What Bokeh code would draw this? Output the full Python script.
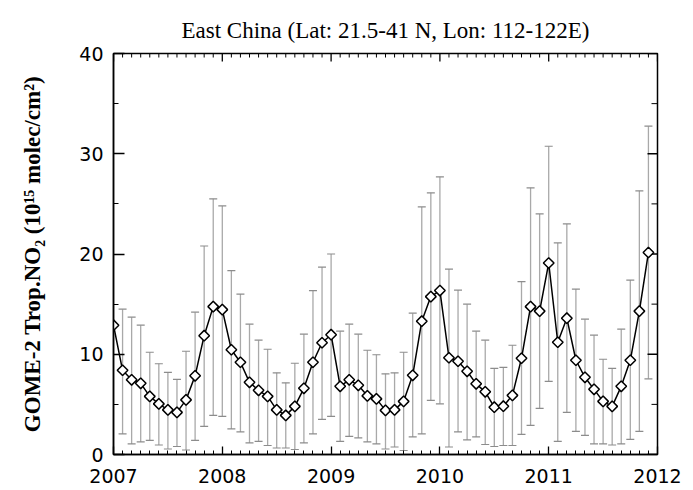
import math
import numpy as np
from bokeh.plotting import figure
from bokeh.models import (ColumnDataSource, Whisker, TeeHead,
                          SingleIntervalTicker, Range1d)
from bokeh.embed import file_html
from bokeh.resources import INLINE

title_text = "East China (Lat: 21.5-41 N, Lon: 112-122E)"
ylabel_text = "GOME-2 Trop.NO\u2082 (10\u00b9\u2075 molec/cm\u00b2)"

years = [2007, 2008, 2009, 2010, 2011]

no2 = [
    12.9, 8.4, 7.45, 7.1, 5.8, 5.05, 4.45, 4.2, 5.45, 7.85, 11.85, 14.75,
    14.45, 10.45, 9.2, 7.2, 6.4, 5.8, 4.45, 3.9, 4.8, 6.6, 9.2, 11.15,
    11.95, 6.8, 7.45, 6.9, 5.85, 5.55, 4.4, 4.45, 5.3, 7.9, 13.3, 15.75,
    16.35, 9.65, 9.3, 8.3, 7.05, 6.25, 4.72, 4.82, 5.9, 9.6, 14.75, 14.3,
    19.1, 11.2, 13.6, 9.4, 7.7, 6.5, 5.3, 4.8, 6.8, 9.4, 14.3, 20.15,
]

upper = [
    float("nan"), 14.5, 13.7, 12.9, 10.2, 9.05, 8.2, 7.5, 10.3, 14.2, 20.8, 25.5,
    24.8, 18.35, 16.0, 13.0, 11.4, 10.5, 8.15, 7.15, 9.1, 12.0, 16.35, 18.7,
    20.0, 12.3, 13.0, 12.0, 10.4, 9.95, 8.05, 8.15, 10.2, 14.1, 24.7, 26.1,
    27.7, 18.5, 16.4, 15.0, 12.3, 11.4, 8.6, 8.7, 10.9, 17.25, 26.6, 24.0,
    30.75, 21.1, 23.0, 16.5, 13.5, 11.9, 9.5, 8.6, 12.5, 17.4, 26.3, 32.75,
]

lower = [
    float("nan"), 2.05, 1.05, 1.25, 1.4, 0.95, 0.55, 0.8, 0.45, 1.4, 2.8, 3.9,
    3.8, 2.55, 2.25, 1.15, 1.3, 0.9, 0.65, 0.65, 0.5, 1.15, 2.05, 3.5,
    3.8, 1.3, 1.8, 1.65, 1.25, 1.05, 0.55, 0.75, 0.4, 1.75, 2.05, 5.4,
    5.05, 0.75, 2.25, 1.45, 1.75, 1.0, 0.8, 0.9, 0.9, 2.0, 2.9, 4.6,
    7.3, 1.3, 4.2, 2.3, 1.9, 1.05, 1.05, 0.95, 1.05, 1.5, 2.3, 7.55,
]

x_start, x_end = 2007, 2012
y_start, y_end = 0, 40

t = [y + m / 12.0 for y in years for m in range(12)]

src = ColumnDataSource(dict(
    t=np.array(t, dtype=float),
    no2=np.array(no2, dtype=float),
    upper=np.array(upper, dtype=float),
    lower=np.array(lower, dtype=float),
))

p = figure(width=693, height=490, output_backend="svg", toolbar_location=None,
           x_range=Range1d(x_start, x_end), y_range=Range1d(y_start, y_end),
           min_border_left=113, min_border_right=36, min_border_top=53,
           min_border_bottom=36, background_fill_color="white",
           border_fill_color="white")

p.title.text = title_text
p.title.align = "center"
p.title.text_font = "Liberation Serif"
p.title.text_font_size = "23px"
p.title.text_font_style = "normal"
p.title.text_color = "black"
p.title.standoff = 22

p.xgrid.visible = False
p.ygrid.visible = False
p.outline_line_color = "black"
p.outline_line_width = 1.5

xticker = SingleIntervalTicker(interval=1, num_minor_ticks=12)
yticker = SingleIntervalTicker(interval=10, num_minor_ticks=2)


def style_axis(ax, major_in, minor_in):
    ax.axis_line_color = "black"
    ax.axis_line_width = 1.5
    ax.major_tick_line_color = "black"
    ax.minor_tick_line_color = "black"
    ax.major_tick_line_width = 1.3
    ax.minor_tick_line_width = 1.0
    ax.major_tick_in = major_in
    ax.major_tick_out = 0
    ax.minor_tick_in = minor_in
    ax.minor_tick_out = 0


xb = p.xaxis[0]
xb.ticker = xticker
style_axis(xb, 8, 4)
xb.major_label_text_font = "DejaVu Sans"
xb.major_label_text_font_size = "19px"
xb.major_label_text_color = "black"
xb.major_label_standoff = 14

yl = p.yaxis[0]
yl.ticker = yticker
style_axis(yl, 11, 5)
yl.major_label_text_font = "DejaVu Sans"
yl.major_label_text_font_size = "19px"
yl.major_label_text_color = "black"
yl.major_label_standoff = 10
yl.axis_label = ylabel_text
yl.axis_label_text_font = "Liberation Serif"
yl.axis_label_text_font_style = "bold"
yl.axis_label_text_font_size = "23px"
yl.axis_label_text_color = "black"
yl.axis_label_standoff = 31

# mirrored inward ticks on the top and right frame edges (clipped to frame)
x_major = list(range(x_start, x_end + 1))
x_minor = [y + m / 12.0 for y in years for m in range(1, 12)]
y_major = list(range(y_start, y_end + 1, 10))
y_minor = [v + 5 for v in range(y_start, y_end, 10)]

p.scatter(x=x_major, y=[y_end] * len(x_major), marker="dash", angle=math.pi / 2,
          size=16, line_color="black", line_width=1.3)
p.scatter(x=x_minor, y=[y_end] * len(x_minor), marker="dash", angle=math.pi / 2,
          size=8, line_color="black", line_width=1.0)
p.scatter(x=[x_end] * len(y_major), y=y_major, marker="dash",
          size=20, line_color="black", line_width=1.3)
p.scatter(x=[x_end] * len(y_minor), y=y_minor, marker="dash",
          size=12, line_color="black", line_width=1.0)

whisk = Whisker(base="t", upper="upper", lower="lower", source=src,
                line_color="#a9a9a9", line_width=1.3,
                upper_head=TeeHead(size=8, line_color="#8c8c8c", line_width=1.2),
                lower_head=TeeHead(size=8, line_color="#8c8c8c", line_width=1.2))
p.add_layout(whisk)

p.line("t", "no2", source=src, line_color="black", line_width=1.5)
p.scatter("t", "no2", source=src, marker="square", angle=math.pi / 4,
          size=7.5, fill_color="white", line_color="black", line_width=1.5)

open("out.html", "w").write(file_html(p, INLINE))
